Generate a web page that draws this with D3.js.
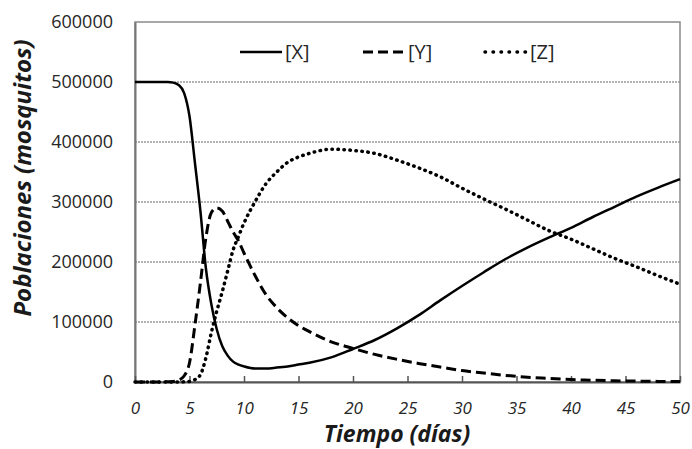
<!DOCTYPE html>
<html lang="es">
<head>
<meta charset="UTF-8">
<title>Poblaciones</title>
<style>
  body { margin: 0; background: #fff; }
  svg { font-family: "Open Sans", sans-serif; }
</style>
</head>
<body>
<svg width="692" height="449"></svg>
<script src="https://cdnjs.cloudflare.com/ajax/libs/d3/7.8.5/d3.min.js"></script>
<script>
  // dias
  const days = [0, 1, 2, 3, 3.5, 4, 4.5, 5, 5.5, 6, 6.5, 7, 7.5, 8, 8.5, 9, 9.5, 10, 11, 12, 13, 14, 15, 16,
                18, 20, 22, 24, 26, 28, 30, 32, 34, 36, 38, 40, 42, 44, 46, 48, 50];
  const seriesX = [500000, 500000, 500000, 500000, 499000, 495000, 482000, 443000, 365000, 285000, 190000, 130000, 88000, 60000, 44000, 34000, 29000, 26000, 22500, 22500, 24000, 26000, 29000, 32000,
                   41000, 55000, 70000, 89000, 111000, 136000, 160000, 183000, 205000, 224000, 241000, 257000, 275000, 292000, 309000, 324000, 338000];
  const seriesY = [0, 0, 0, 500, 1000, 3000, 10000, 32000, 95000, 165000, 240000, 282000, 290000, 285000, 268000, 250000, 235000, 215000, 178000, 146000, 124000, 107000, 94000, 84000,
                   67000, 56000, 46000, 38000, 31000, 25000, 19000, 15000, 11000, 8000, 6000, 4000, 3000, 2000, 1500, 1000, 700];
  const seriesZ = [0, 0, 0, 0, 0, 0, 300, 1000, 4000, 12000, 40000, 82000, 118000, 150000, 185000, 220000, 243000, 265000, 300000, 330000, 350000, 366000, 375000, 381000,
                   388000, 386000, 381000, 370000, 357000, 342000, 323000, 305000, 288000, 270000, 252000, 238000, 222000, 206000, 192000, 177000, 163000];
  const xTicks = [0, 5, 10, 15, 20, 25, 30, 35, 40, 45, 50];
  const yTicks = [0, 100000, 200000, 300000, 400000, 500000, 600000];
  const names = ['[X]', '[Y]', '[Z]'];

  const svg = d3.select('svg');
  const margin = {top: 22, right: 12, bottom: 67, left: 135};
  const width = 692 - margin.left - margin.right;
  const height = 449 - margin.top - margin.bottom;
  const g = svg.append('g').attr('transform', `translate(${margin.left},${margin.top})`);

  const x = d3.scaleLinear().domain([0, 50]).range([0, width]);
  const y = d3.scaleLinear().domain([0, 600000]).range([height, 0]);

  // rejilla
  g.selectAll('.grid').data(yTicks.filter(d => d > 0 && d < 600000))
    .enter().append('line')
    .attr('x1', 0).attr('x2', width)
    .attr('y1', d => y(d)).attr('y2', d => y(d))
    .attr('stroke', '#9a9a9a').attr('stroke-width', 1.5)
    .attr('stroke-dasharray', '2,1');

  // marco
  g.append('rect').attr('width', width).attr('height', height)
    .attr('fill', 'none').attr('stroke', '#8a8a8a').attr('stroke-width', 1.5);

  const yAxis = g.append('g')
    .call(d3.axisLeft(y).tickValues(yTicks).tickSize(0).tickPadding(22).tickFormat(d3.format('d')));
  yAxis.select('.domain').attr('stroke', '#777').attr('stroke-width', 2);
  yAxis.selectAll('text').attr('font-size', 18).attr('fill', '#262626').attr('font-family', '"Open Sans", sans-serif');

  const xAxis = g.append('g').attr('transform', `translate(0,${height})`)
    .call(d3.axisBottom(x).tickValues(xTicks).tickSize(-6).tickPadding(20).tickSizeOuter(0));
  xAxis.select('.domain').attr('stroke', '#555').attr('stroke-width', 2);
  xAxis.selectAll('line').attr('stroke', '#555').attr('stroke-width', 1.5);
  xAxis.selectAll('text').attr('font-size', 17).attr('fill', '#262626')
    .attr('font-style', 'italic').attr('font-family', '"Open Sans", sans-serif');

  const styles = [
    {w: 2.5, dash: null, cap: 'butt'},
    {w: 3, dash: '10,5', cap: 'butt'},
    {w: 3.5, dash: '0.5,5.5', cap: 'round'}
  ];
  const line = d3.line().x(d => x(d[0])).y(d => y(d[1])).curve(d3.curveMonotoneX);
  [seriesX, seriesY, seriesZ].forEach((s, i) => {
    g.append('path').datum(days.map((t, j) => [t, s[j]]))
      .attr('fill', 'none').attr('stroke', '#000')
      .attr('stroke-width', styles[i].w)
      .attr('stroke-dasharray', styles[i].dash)
      .attr('stroke-linecap', styles[i].cap)
      .attr('d', line);
  });

  // leyenda
  const legendX = [240, 363, 485];
  names.forEach((n, i) => {
    const lg = svg.append('g').attr('transform', `translate(${legendX[i]},52)`);
    lg.append('line').attr('x1', 0).attr('x2', i === 2 ? 43 : 42).attr('y1', 0).attr('y2', 0)
      .attr('stroke', '#000').attr('stroke-width', styles[i].w)
      .attr('stroke-dasharray', i === 2 ? '0.5,7.5' : styles[i].dash)
      .attr('stroke-linecap', styles[i].cap);
    lg.append('text').attr('x', 45).attr('y', 7).attr('font-size', 20).attr('fill', '#262626').text(n);
  });

  // titulos
  svg.append('text').attr('x', 397).attr('y', 442)
    .attr('text-anchor', 'middle').attr('font-size', 23).attr('font-weight', 'bold')
    .attr('font-style', 'italic').attr('fill', '#1a1a1a').text('Tiempo (días)');
  svg.append('text').attr('transform', 'translate(31,178) rotate(-90)')
    .attr('text-anchor', 'middle').attr('font-size', 24).attr('font-weight', 'bold')
    .attr('font-style', 'italic').attr('fill', '#1a1a1a').text('Poblaciones (mosquitos)');
</script>
</body>
</html>
